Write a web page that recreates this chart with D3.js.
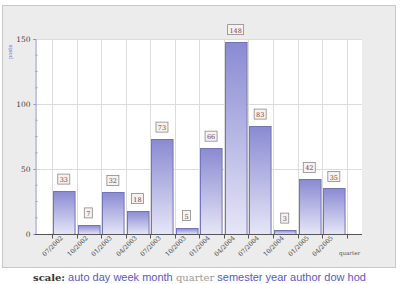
<!DOCTYPE html>
<html>
<head>
<meta charset="utf-8">
<script src="https://cdn.jsdelivr.net/npm/d3@7"></script>
<style>
  body { margin: 0; background: #fff; }
  svg { display: block; }
</style>
</head>
<body>
<script>
// posts per quarter
const quarters = ["07/2002", "10/2002", "01/2003", "04/2003", "07/2003", "10/2003",
                  "01/2004", "04/2004", "07/2004", "10/2004", "01/2005", "04/2005"];
const posts = [33, 7, 32, 18, 73, 5, 66, 148, 83, 3, 42, 35];
const yTicks = [0, 50, 100, 150];
const scaleLinks = ["auto", "day", "week", "month", "quarter", "semester", "year", "author", "dow", "hod"];
const currentScale = "quarter";

const svg = d3.select("body").append("svg")
  .attr("width", 400)
  .attr("height", 284);

// gradient for the bars
const grad = svg.append("defs").append("linearGradient")
  .attr("id", "barGrad").attr("x1", 0).attr("y1", 0).attr("x2", 0).attr("y2", 1);
grad.append("stop").attr("offset", "0%").attr("stop-color", "#8a8ad3");
grad.append("stop").attr("offset", "100%").attr("stop-color", "#e6e6f7");

// panel
svg.append("rect")
  .attr("x", 2.5).attr("y", 5.5).attr("width", 393).attr("height", 262)
  .attr("fill", "#ececec").attr("stroke", "#c8c8c8");

const pLeft = 35, pRight = 362, pTop = 39, pBottom = 234;

const x = d3.scaleBand().domain(quarters).range([52, 346.6]);
const y = d3.scaleLinear().domain([0, 150]).range([pBottom, pTop]);

// plot area
svg.append("rect")
  .attr("x", pLeft).attr("y", pTop).attr("width", pRight - pLeft).attr("height", pBottom - pTop)
  .attr("fill", "#fff");

// grid
svg.append("g").selectAll("line")
  .data(yTicks.slice(1))
  .join("line")
  .attr("x1", pLeft).attr("x2", pRight)
  .attr("y1", d => Math.round(y(d)) + 0.5).attr("y2", d => Math.round(y(d)) + 0.5)
  .attr("stroke", "#dcdcdc");

const gridX = quarters.map(q => x(q)).concat([x(quarters[quarters.length - 1]) + x.step()]);
svg.append("g").selectAll("line")
  .data(gridX)
  .join("line")
  .attr("x1", d => Math.round(d) + 0.5).attr("x2", d => Math.round(d) + 0.5)
  .attr("y1", pTop).attr("y2", pBottom)
  .attr("stroke", "#dcdcdc");

// bars
svg.append("g").selectAll("rect")
  .data(posts)
  .join("rect")
  .attr("x", (d, i) => Math.round(x(quarters[i])) + 1.5)
  .attr("y", d => Math.round(y(d)) + 0.5)
  .attr("width", x.step() - 3)
  .attr("height", d => pBottom - Math.round(y(d)))
  .attr("fill", "url(#barGrad)")
  .attr("stroke", "#7474b8")
  .attr("stroke-width", 1);

// value labels
const lab = svg.append("g").selectAll("g")
  .data(posts)
  .join("g")
  .attr("transform", (d, i) => `translate(${x(quarters[i]) + x.step() / 2 - 0.5},${y(d) - 12})`);
lab.append("rect")
  .attr("x", d => -(String(d).length * 4 + 4) / 2)
  .attr("y", -5)
  .attr("width", d => String(d).length * 4 + 4)
  .attr("height", 10)
  .attr("fill", "#f6f2f2")
  .attr("stroke", "#8a8a8a")
  .attr("stroke-width", 0.8);
lab.append("text")
  .attr("text-anchor", "middle")
  .attr("y", 3)
  .style("font-family", "'DejaVu Serif', serif")
  .attr("font-size", 6.5)
  .attr("fill", "#7a3a3a")
  .text(d => d);

// y axis
const yAxis = svg.append("g").attr("transform", `translate(${pLeft + 0.5},0)`);
yAxis.call(d3.axisLeft(y).tickValues(yTicks).tickSize(2).tickPadding(3).tickFormat(d3.format("d")));
yAxis.select(".domain").attr("stroke", "#8a8ad0");
yAxis.selectAll(".tick line").attr("stroke", "#8a8ad0");
yAxis.selectAll("text")
  .style("font-family", "'DejaVu Serif', serif").attr("font-size", 7.5).attr("fill", "#444");
// minor ticks
yAxis.append("g").selectAll("line")
  .data(d3.range(0, 150.1, 12.5).filter(v => v % 50 !== 0))
  .join("line")
  .attr("x1", 0).attr("x2", 2)
  .attr("y1", d => y(d)).attr("y2", d => y(d))
  .attr("stroke", "#9a9ad0");

svg.append("text")
  .attr("transform", "translate(12,52) rotate(-90)")
  .attr("text-anchor", "middle")
  .style("font-family", "'DejaVu Serif', serif")
  .attr("font-size", 5.5)
  .attr("fill", "#6a6acc")
  .text("posts");

// x axis
const xAxis = svg.append("g").attr("transform", `translate(0,${pBottom + 0.5})`);
xAxis.call(d3.axisBottom(x).tickSize(4).tickSizeOuter(0));
xAxis.select(".domain").attr("d", `M${pLeft},0H${pRight}`).attr("stroke", "#555");
xAxis.selectAll(".tick").attr("transform", d => `translate(${Math.round(x(d)) + 0.5},0)`);
xAxis.selectAll(".tick line").attr("stroke", "#555");
xAxis.selectAll(".tick text")
  .style("font-family", "'DejaVu Serif', serif")
  .attr("font-size", 6.3)
  .attr("fill", "#444")
  .attr("text-anchor", "middle")
  .attr("dy", "0.35em")
  .attr("y", 0)
  .attr("transform", "translate(0,11.5) rotate(-45)");
// extra tick at end
xAxis.append("line")
  .attr("x1", Math.round(gridX[12]) + 0.5).attr("x2", Math.round(gridX[12]) + 0.5)
  .attr("y1", 0).attr("y2", 4).attr("stroke", "#555");

svg.append("text")
  .attr("x", 339).attr("y", 255)
  .style("font-family", "'DejaVu Serif', serif")
  .attr("font-size", 5.5)
  .attr("fill", "#555")
  .text("quarter");

// scale links
const footer = svg.append("text")
  .attr("x", 33).attr("y", 281);
footer.append("tspan")
  .style("font-family", "'DejaVu Serif', serif")
  .style("font-weight", "bold")
  .attr("fill", "#333")
  .attr("font-size", 10)
  .text("scale:");
scaleLinks.forEach(s => {
  const cur = s === currentScale;
  footer.append("tspan")
    .style("font-family", cur ? "'DejaVu Serif', serif" : "'Liberation Sans', Arial, sans-serif")
    .attr("fill", cur ? "#9a9a9a" : "#5858c8")
    .attr("font-size", cur ? 10 : 11)
    .text(" " + s);
});
</script>
</body>
</html>
